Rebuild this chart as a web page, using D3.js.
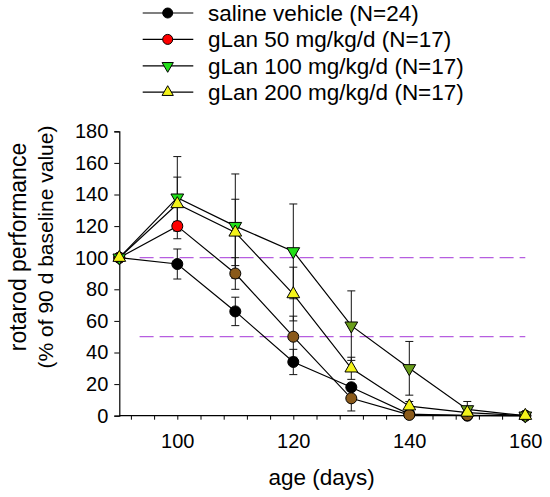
<!DOCTYPE html>
<html>
<head>
<meta charset="utf-8">
<style>
  body { margin: 0; background: #fff; }
  svg text { font-family: "Liberation Sans", Arial, sans-serif; fill: #000; }
</style>
</head>
<body>
<svg id="plot"></svg>
<script src="https://d3js.org/d3.v7.min.js"></script>
<script>

// ages (days)
var ages = [90, 100, 110, 120, 130, 140, 150, 160];

// mean rotarod performance, % of 90 d baseline
var saline  = [100, 96, 66, 34, 18, 1, 0, 0];
var gLan50  = [100, 120, 90, 50, 11, 0.5, 0.3, 0];
var gLan100 = [100, 138, 120, 104, 57, 30, 4, 0];
var gLan200 = [100, 134, 116, 77, 30, 6, 2, 0];

// error bar half widths
var salineErr  = [0, 9.5, 9, 8, 2, 0, 0, 0];
var gLan50Err  = [0, 3, 10, 13, 8, 0, 0, 0];
var gLan100Err = [0, 26, 33, 30, 22, 17, 5, 0];
var gLan200Err = [0, 17, 21, 17, 7, 3, 2, 0];

var seriesNames = ["saline vehicle (N=24)", "gLan 50 mg/kg/d (N=17)",
                   "gLan 100 mg/kg/d (N=17)", "gLan 200 mg/kg/d (N=17)"];

var yTicks = [0, 20, 40, 60, 80, 100, 120, 140, 160, 180];
var xLabels = [100, 120, 140, 160];
var refLevels = [50, 100];

var width = 550, height = 497;

var svg = d3.select("#plot")
    .attr("width", width)
    .attr("height", height);

var xScale = d3.scaleLinear()
    .domain([90, 160])
    .range([119.3, 525.3]);

var yScale = d3.scaleLinear()
    .domain([0, 180])
    .range([415.7, 131.3]);

// marker styles (colours as they appear in the figure)
var styles = [
    {shape: "circle", fill: function(i) { return "#000000"; }},
    {shape: "circle", fill: function(i) { return i <= 1 ? "#ff0000" : "#8a5a1a"; }},
    {shape: "down",   fill: function(i) { return i <= 3 ? "#22e01a" : "#6a9e1c"; }},
    {shape: "up",     fill: function(i) { return "#f2f21a"; }}
];

var legendFill = ["#000000", "#ff0000", "#22e01a", "#f2f21a"];

var allSeries = [
    {values: saline,  err: salineErr},
    {values: gLan50,  err: gLan50Err},
    {values: gLan100, err: gLan100Err},
    {values: gLan200, err: gLan200Err}
];

var drawMarker = function(g, shape, fill, x, y, size)
{
    if (shape == "circle") {
        g.append("circle")
            .attr("cx", x)
            .attr("cy", y)
            .attr("r", size.r)
            .attr("fill", fill)
            .attr("stroke", "#000")
            .attr("stroke-width", 1);
    } else {
        var sym = d3.symbol().type(d3.symbolTriangle).size(size.tri);
        g.append("path")
            .attr("d", sym())
            .attr("transform", "translate(" + x + "," + y + ")" +
                  (shape == "down" ? " rotate(180)" : ""))
            .attr("fill", fill)
            .attr("stroke", "#000")
            .attr("stroke-width", 1);
    }
}

// reference lines
svg.append("g")
    .selectAll("line")
    .data(refLevels)
    .enter()
    .append("line")
    .attr("x1", xScale(93.5))
    .attr("x2", xScale(160))
    .attr("y1", function(d) { return yScale(d); })
    .attr("y2", function(d) { return yScale(d); })
    .attr("stroke", "#b65ee0")
    .attr("stroke-width", 1.2)
    .attr("stroke-dasharray", "14,6");

// axes
var yAxis = d3.axisLeft(yScale)
    .tickValues(yTicks)
    .tickSize(5)
    .tickPadding(6)
    .tickFormat(d3.format("d"));

var yG = svg.append("g")
    .attr("transform", "translate(" + xScale(90) + ",0)")
    .call(yAxis);

var xAxis = d3.axisBottom(xScale)
    .tickValues(d3.range(92, 161, 4))
    .tickSize(4)
    .tickPadding(14)
    .tickFormat(function(d) { return xLabels.indexOf(d) >= 0 ? d : ""; });

var xG = svg.append("g")
    .attr("transform", "translate(0," + yScale(0) + ")")
    .call(xAxis);

xG.select(".domain").attr("d", "M" + xScale(90) + ",0H" + (xScale(160) + 3));

[xG, yG].forEach(function(g) {
    g.select(".domain").attr("stroke", "#000").attr("stroke-width", 1.2);
    g.selectAll(".tick line").attr("stroke", "#000").attr("stroke-width", 1);
    g.selectAll(".tick text")
        .style("font-family", "'Liberation Sans', Arial, sans-serif")
        .style("font-size", "20px")
        .attr("fill", "#000");
});

// error bars
var errG = svg.append("g");
allSeries.forEach(function(s) {
    s.values.forEach(function(v, i) {
        if (s.err[i] <= 0) return;
        var x = xScale(ages[i]);
        var lo = yScale(Math.max(0, v - s.err[i]));
        var hi = yScale(v + s.err[i]);
        errG.append("line")
            .attr("x1", x).attr("x2", x)
            .attr("y1", lo).attr("y2", hi)
            .attr("stroke", "#111").attr("stroke-width", 1);
        [lo, hi].forEach(function(y) {
            errG.append("line")
                .attr("x1", x - 4).attr("x2", x + 4)
                .attr("y1", y).attr("y2", y)
                .attr("stroke", "#111").attr("stroke-width", 1);
        });
    });
});

// lines
var line = d3.line()
    .x(function(d, i) { return xScale(ages[i]); })
    .y(function(d) { return yScale(d); });

svg.append("g")
    .selectAll("path")
    .data(allSeries)
    .enter()
    .append("path")
    .attr("d", function(s) { return line(s.values); })
    .attr("fill", "none")
    .attr("stroke", "#000")
    .attr("stroke-width", 1.2);

// markers
var markG = svg.append("g");
allSeries.forEach(function(s, k) {
    s.values.forEach(function(v, i) {
        drawMarker(markG, styles[k].shape, styles[k].fill(i),
                   xScale(ages[i]), yScale(v), {r: 5.5, tri: 70});
    });
});

// legend
var legend = svg.append("g");
seriesNames.forEach(function(name, k) {
    var y = 13 + k * 26.4;
    legend.append("line")
        .attr("x1", 142.7).attr("x2", 193.3)
        .attr("y1", y).attr("y2", y)
        .attr("stroke", "#000").attr("stroke-width", 1.2);
    drawMarker(legend, styles[k].shape, legendFill[k], 167.7, y, {r: 5, tri: 55});
    legend.append("text")
        .attr("x", 208)
        .attr("y", y + 7.8)
        .style("font-size", "22.5px")
        .text(name);
});

// axis titles
svg.append("text")
    .attr("x", 321.7)
    .attr("y", 485)
    .attr("text-anchor", "middle")
    .style("font-size", "22.5px")
    .text("age (days)");

var yTitle = svg.append("g")
    .attr("transform", "translate(0,247) rotate(-90)");

yTitle.append("text")
    .attr("x", 0)
    .attr("y", 26)
    .attr("text-anchor", "middle")
    .style("font-size", "23px")
    .text("rotarod performance");

yTitle.append("text")
    .attr("x", 0)
    .attr("y", 52.5)
    .attr("text-anchor", "middle")
    .style("font-size", "21px")
    .text("(% of 90 d baseline value)");

</script>
</body>
</html>
